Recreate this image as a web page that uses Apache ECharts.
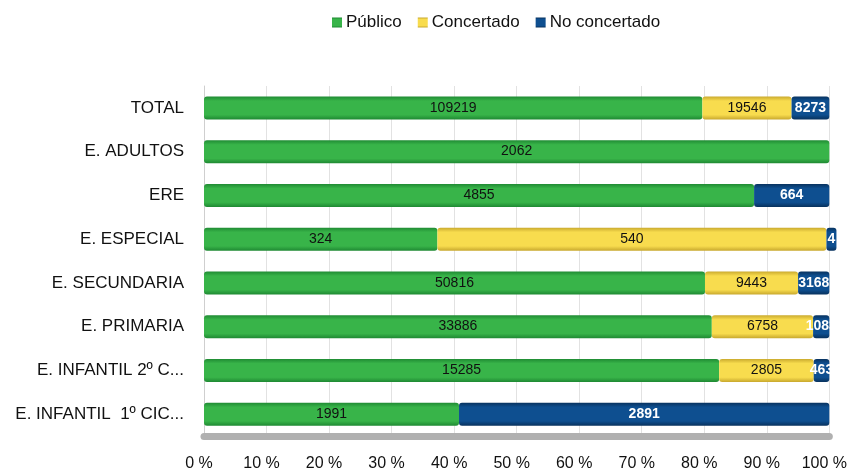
<!DOCTYPE html>
<html><head><meta charset="utf-8">
<script src="https://cdn.jsdelivr.net/npm/echarts@6/dist/echarts.min.js"></script>
<style>html,body{margin:0;padding:0;background:#fff}#c{width:850px;height:472px}</style>
</head><body><div id="c"></div>
<script>
const categories = ['TOTAL','E. ADULTOS','ERE','E. ESPECIAL','E. SECUNDARIA','E. PRIMARIA','E. INFANTIL 2º C...','E. INFANTIL  1º CIC...'];
const publico = [109219, 2062, 4855, 324, 50816, 33886, 15285, 1991];
const concertado = [19546, 0, 0, 540, 9443, 6758, 2805, 0];
const noConcertado = [8273, 0, 664, 4, 3168, 1083, 463, 2891];
const xTicks = ['0 %','10 %','20 %','30 %','40 %','50 %','60 %','70 %','80 %','90 %','100 %'];

const totals = categories.map((_, i) => publico[i] + concertado[i] + noConcertado[i]);
function share(arr){ return arr.map((v,i)=> v>0 ? {value: v/totals[i]*100, raw: v} : null); }

const FONT = 'Liberation Sans, Arial, sans-serif';
function mk(name, arr, color, dark, lblColor, bold, minLen){
  return {
    name, type:'bar', stack:'s', barWidth:23, barMinHeight:minLen, clip:false,
    data: share(arr),
    itemStyle:{
      color:{type:'linear',x:0,y:0,x2:0,y2:1,colorStops:[{offset:0,color:dark},{offset:0.2,color:color},{offset:0.8,color:color},{offset:1,color:dark}]},
      borderRadius:3
    },
    label:{show:true, position:'inside', color:lblColor, fontFamily:FONT, fontSize:14, fontWeight: bold?'bold':'normal',
      formatter: p => p.data && p.data.raw ? String(p.data.raw) : ''}
  };
}
const chart = echarts.init(document.getElementById('c'));
chart.setOption({
  animation:false,
  legend:{top:9, left:327, itemWidth:10, itemHeight:10, itemGap:16, icon:'rect',
    textStyle:{fontFamily:FONT, fontSize:17, color:'#111', padding:[0,0,0,-1]},
    data:['Público','Concertado','No concertado']},
  grid:{left:204, right:20, top:86, bottom:36},
  xAxis:{type:'value', min:0, max:100, interval:10,
    axisLabel:{formatter:(v)=>xTicks[Math.round(v/10)], fontFamily:FONT, fontSize:16, color:'#111', margin:20, padding:[0,10,0,0]},
    axisLine:{show:true, lineStyle:{color:'#b0b0b0', width:7}}, axisTick:{show:false},
    splitLine:{show:true, lineStyle:{color:'#e2e2e2'}}},
  yAxis:{type:'category', inverse:true, data:categories,
    axisLabel:{fontFamily:FONT, fontSize:17, color:'#111', margin:20},
    axisLine:{show:true, lineStyle:{color:'#cfcfcf'}}, axisTick:{show:false}},
  series:[
    mk('Público', publico, '#38b449', '#1f8a33', '#111', false, 0),
    mk('Concertado', concertado, '#f8dc4e', '#c9a92e', '#111', false, 0),
    mk('No concertado', noConcertado, '#0e4f90', '#08325e', '#fff', true, 10)
  ],
  color:['#2bb24c','#fcd54c','#0a4d8c']
});
</script></body></html>
